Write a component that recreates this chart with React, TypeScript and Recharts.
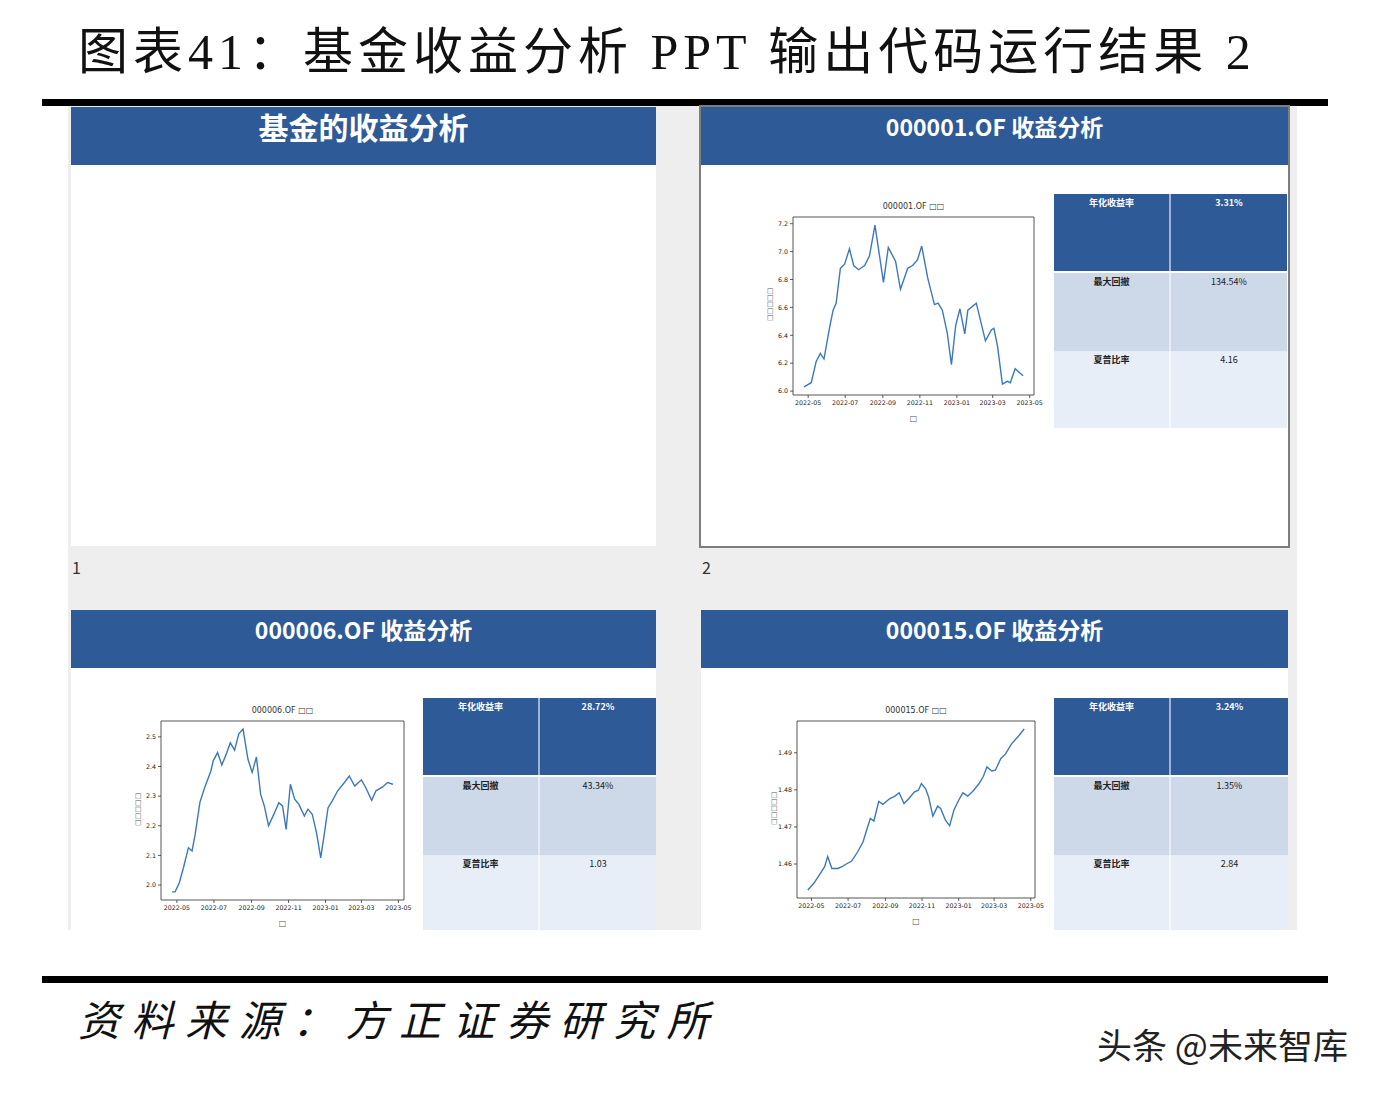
import React from "react";
import { LineChart, Line, XAxis, YAxis, ReferenceArea } from "recharts";

// x tick labels shared by the three NAV charts
const monthTicks = ["2022-05", "2022-07", "2022-09", "2022-11", "2023-01", "2023-03", "2023-05"];

// 000001.OF
const dates1 = [
  "2022-04-24", "2022-05-06", "2022-05-14", "2022-05-21", "2022-05-27", "2022-06-05", "2022-06-11",
  "2022-06-16", "2022-06-23", "2022-06-30", "2022-07-08", "2022-07-15", "2022-07-23", "2022-08-02",
  "2022-08-10", "2022-08-19", "2022-09-02", "2022-09-10", "2022-09-22", "2022-09-30", "2022-10-12",
  "2022-10-20", "2022-10-28", "2022-11-04", "2022-11-14", "2022-11-25", "2022-12-01", "2022-12-08",
  "2022-12-16", "2022-12-23", "2022-12-30", "2023-01-06", "2023-01-14", "2023-01-19", "2023-02-02",
  "2023-02-17", "2023-02-27", "2023-03-03", "2023-03-09", "2023-03-17", "2023-03-25", "2023-03-30",
  "2023-04-07", "2023-04-20",
];
const nav1 = [
  6.03, 6.06, 6.21, 6.27, 6.23, 6.45, 6.58,
  6.63, 6.88, 6.91, 7.02, 6.9, 6.87, 6.9,
  6.97, 7.19, 6.78, 7.03, 6.93, 6.73, 6.88,
  6.9, 6.94, 7.04, 6.81, 6.62, 6.63, 6.58,
  6.42, 6.19, 6.47, 6.59, 6.41, 6.58, 6.63,
  6.36, 6.44, 6.45, 6.32, 6.05, 6.07, 6.06,
  6.16, 6.11,
];
const yTicks1 = [6.0, 6.2, 6.4, 6.6, 6.8, 7.0, 7.2];
const stats1 = ["3.31%", "134.54%", "4.16"];

// 000006.OF
const dates2 = [
  "2022-04-23", "2022-04-28", "2022-05-05", "2022-05-12", "2022-05-20", "2022-05-26", "2022-05-31",
  "2022-06-08", "2022-06-16", "2022-06-26", "2022-06-30", "2022-07-07", "2022-07-14", "2022-07-21",
  "2022-07-28", "2022-08-04", "2022-08-11", "2022-08-18", "2022-08-26", "2022-09-02", "2022-09-09",
  "2022-09-16", "2022-09-22", "2022-09-29", "2022-10-08", "2022-10-16", "2022-10-22", "2022-10-28",
  "2022-11-04", "2022-11-11", "2022-11-18", "2022-11-27", "2022-12-03", "2022-12-10", "2022-12-17",
  "2022-12-24", "2022-12-29", "2023-01-05", "2023-01-12", "2023-01-21", "2023-02-01", "2023-02-09",
  "2023-02-18", "2023-03-01", "2023-03-08", "2023-03-18", "2023-03-25", "2023-04-05", "2023-04-13",
  "2023-04-22",
];
const nav2 = [
  1.977, 1.977, 2.008, 2.06, 2.126, 2.115, 2.17,
  2.28, 2.33, 2.385, 2.42, 2.447, 2.405, 2.44,
  2.48, 2.455, 2.51, 2.526, 2.425, 2.38, 2.432,
  2.306, 2.267, 2.2, 2.24, 2.278, 2.267, 2.188,
  2.34, 2.29, 2.272, 2.233, 2.256, 2.239, 2.177,
  2.092, 2.16, 2.26, 2.284, 2.318, 2.346, 2.368,
  2.334, 2.355, 2.329, 2.286, 2.318, 2.331, 2.346,
  2.34,
];
const yTicks2 = [2.0, 2.1, 2.2, 2.3, 2.4, 2.5];
const stats2 = ["28.72%", "43.34%", "1.03"];

// 000015.OF
const dates3 = [
  "2022-04-25", "2022-05-05", "2022-05-14", "2022-05-23", "2022-05-28", "2022-06-04", "2022-06-14",
  "2022-06-21", "2022-06-28", "2022-07-07", "2022-07-17", "2022-07-26", "2022-07-31", "2022-08-07",
  "2022-08-13", "2022-08-21", "2022-08-28", "2022-09-08", "2022-09-17", "2022-09-24", "2022-10-02",
  "2022-10-10", "2022-10-19", "2022-10-26", "2022-10-31", "2022-11-07", "2022-11-12", "2022-11-19",
  "2022-11-27", "2022-12-02", "2022-12-10", "2022-12-17", "2022-12-24", "2023-01-01", "2023-01-08",
  "2023-01-16", "2023-01-25", "2023-02-04", "2023-02-11", "2023-02-17", "2023-02-25", "2023-03-03",
  "2023-03-12", "2023-03-20", "2023-03-30", "2023-04-10", "2023-04-20",
];
const nav3 = [
  1.453, 1.4548, 1.457, 1.4593, 1.462, 1.4588, 1.4588,
  1.4593, 1.46, 1.4608, 1.4633, 1.466, 1.4687, 1.4723,
  1.4716, 1.4769, 1.4761, 1.4776, 1.4783, 1.4792, 1.4763,
  1.4776, 1.4794, 1.4799, 1.4817, 1.4803, 1.4781, 1.4729,
  1.4756, 1.475, 1.4718, 1.4703, 1.4745, 1.4772, 1.4792,
  1.4783, 1.4797, 1.4817, 1.4836, 1.4862, 1.4851, 1.4853,
  1.4884, 1.4897, 1.4924, 1.4944, 1.4964,
];
const yTicks3 = [1.46, 1.47, 1.48, 1.49];
const stats3 = ["3.24%", "1.35%", "2.84"];

const statNames = ["年化收益率", "最大回撤", "夏普比率"];

const BLUE = "#2e5a98";
const CJK = "'Noto Sans CJK SC', 'Noto Sans', sans-serif";
const MPL = "'DejaVu Sans', sans-serif";

function monthLabel(t: number) {
  const d = new Date(t);
  return d.getUTCFullYear() + "-" + String(d.getUTCMonth() + 1).padStart(2, "0");
}

function NavChart({ code, dates, nav, yTicks, digits, box }: any) {
  const data = dates.map((d: string, i: number) => ({ t: Date.parse(d), v: nav[i] }));
  const ts = data.map((p: any) => p.t);
  const tMin = Math.min(...ts);
  const tMax = Math.max(...ts);
  const vMin = Math.min(...nav);
  const vMax = Math.max(...nav);
  const xPad = (tMax - tMin) * 0.05;
  const yPad = (vMax - vMin) * 0.05;
  const xDomain = [tMin - xPad, tMax + xPad];
  const yDomain = [vMin - yPad, vMax + yPad];
  const [px, py, pw, ph] = box;

  return (
    <>
      <div
        style={{
          position: "absolute", left: px, top: py - 16, width: pw, textAlign: "center",
          fontFamily: MPL, fontSize: 8, color: "#333", lineHeight: "12px",
        }}
      >
        {code} □□
      </div>
      <div
        style={{
          position: "absolute", left: px - 38, top: py + ph / 2 - 6, width: 30, height: 12,
          transform: "rotate(-90deg)", textAlign: "center", fontFamily: MPL, fontSize: 7,
          color: "#555", lineHeight: "12px",
        }}
      >
        □□□□□
      </div>
      <div
        style={{
          position: "absolute", left: px, top: ph + py + 19, width: pw, textAlign: "center",
          fontFamily: MPL, fontSize: 8, color: "#555", lineHeight: "10px",
        }}
      >
        □
      </div>
      <div style={{ position: "absolute", left: px - 40, top: py - 10 }}>
        <LineChart width={pw + 60} height={ph + 40} data={data} margin={{ top: 10, right: 20, left: 0, bottom: 0 }}>
          <XAxis
            dataKey="t"
            type="number"
            domain={xDomain}
            allowDataOverflow
            ticks={monthTicks.map((m) => Date.parse(m + "-01"))}
            tickFormatter={monthLabel}
            interval={0}
            height={30}
            tickSize={3}
            tickMargin={3}
            axisLine={false}
            tickLine={{ stroke: "#333", strokeWidth: 0.8 }}
            tick={{ fontSize: 6.3, fill: "#222", fontFamily: MPL }}
          />
          <YAxis
            type="number"
            domain={yDomain}
            allowDataOverflow
            ticks={yTicks}
            tickFormatter={(v: number) => v.toFixed(digits)}
            interval={0}
            width={40}
            tickSize={3}
            tickMargin={2}
            axisLine={false}
            tickLine={{ stroke: "#333", strokeWidth: 0.8 }}
            tick={{ fontSize: 6.3, fill: "#222", fontFamily: MPL }}
          />
          <ReferenceArea
            x1={xDomain[0]}
            x2={xDomain[1]}
            y1={yDomain[0]}
            y2={yDomain[1]}
            fill="none"
            stroke="#444"
            strokeWidth={0.9}
            ifOverflow="visible"
          />
          <Line
            dataKey="v"
            type="linear"
            stroke="#3a78c0"
            strokeWidth={1.4}
            dot={false}
            isAnimationActive={false}
          />
        </LineChart>
      </div>
    </>
  );
}

function StatTable({ stats, left, top, width, height }: any) {
  const rowH = [77, 78, 78];
  const bg = [BLUE, "#cdd8e9", "#e8eef7"];
  let y = 0;
  return (
    <div style={{ position: "absolute", left, top, width, height, overflow: "hidden" }}>
      {statNames.map((name, i) => {
        const rowTop = y;
        y += rowH[i] + (i === 0 ? 2 : 0);
        const color = i === 0 ? "#fff" : "#222";
        const cell = (text: string, bold: boolean, l: number, w: number, border: boolean) => (
          <div
            style={{
              position: "absolute", left: l, top: rowTop, width: w, height: rowH[i],
              background: bg[i], boxSizing: "border-box",
              borderRight: border ? "2px solid rgba(255,255,255,0.55)" : "none",
              textAlign: "center", paddingTop: 3, fontFamily: CJK, fontSize: 9,
              fontWeight: bold ? 700 : 400, color, lineHeight: "12px",
            }}
          >
            {text}
          </div>
        );
        return (
          <React.Fragment key={name}>
            {cell(name, true, 0, Math.round(width / 2), true)}
            {cell(stats[i], i === 0, Math.round(width / 2), width - Math.round(width / 2), false)}
          </React.Fragment>
        );
      })}
    </div>
  );
}

function Slide({ left, top, width, height, title, fontSize }: any) {
  return (
    <div style={{ position: "absolute", left, top, width, height, background: "#fff" }}>
      <div
        style={{
          position: "absolute", left: 0, top: 0, width, height: 58, background: BLUE,
          color: "#fff", fontFamily: CJK, fontWeight: 700, fontSize, textAlign: "center",
          lineHeight: "38px",
        }}
      >
        {title}
      </div>
    </div>
  );
}

export default function App() {
  return (
    <div
      style={{
        position: "absolute", left: 0, top: 0, width: 1382, height: 1094, background: "#fff",
        overflow: "hidden",
      }}
    >
      <div
        style={{
          position: "absolute", left: 78, top: 22, fontFamily: "'Liberation Serif', 'Noto Sans CJK SC', serif",
          fontSize: 50, letterSpacing: 5, lineHeight: "60px", color: "#111", whiteSpace: "nowrap",
        }}
      >
        图表41：基金收益分析 PPT 输出代码运行结果 2
      </div>
      <div style={{ position: "absolute", left: 42, top: 99, width: 1286, height: 7, background: "#000" }} />

      <div style={{ position: "absolute", left: 68, top: 106, width: 1229, height: 824, background: "#eeeeee" }} />

      <Slide left={71} top={107} width={585} height={439} title="基金的收益分析" fontSize={30} />
      <div
        style={{
          position: "absolute", left: 699, top: 105, width: 591, height: 443, boxSizing: "border-box",
          border: "2px solid #7d7d7d",
        }}
      />
      <Slide left={701} top={107} width={587} height={439} title="000001.OF 收益分析" fontSize={23} />
      <Slide left={71} top={610} width={585} height={320} title="000006.OF 收益分析" fontSize={23} />
      <Slide left={701} top={610} width={587} height={320} title="000015.OF 收益分析" fontSize={23} />

      <div style={{ position: "absolute", left: 72, top: 555, fontFamily: CJK, fontSize: 16, color: "#333" }}>1</div>
      <div style={{ position: "absolute", left: 702, top: 555, fontFamily: CJK, fontSize: 16, color: "#333" }}>2</div>

      <NavChart code="000001.OF" dates={dates1} nav={nav1} yTicks={yTicks1} digits={1} box={[793, 217, 241, 178]} />
      <NavChart code="000006.OF" dates={dates2} nav={nav2} yTicks={yTicks2} digits={1} box={[161, 721, 243, 179]} />
      <NavChart code="000015.OF" dates={dates3} nav={nav3} yTicks={yTicks3} digits={2} box={[797, 721, 238, 177]} />

      <StatTable stats={stats1} left={1054} top={194} width={233} height={234} />
      <StatTable stats={stats2} left={423} top={698} width={233} height={232} />
      <StatTable stats={stats3} left={1054} top={698} width={234} height={232} />

      <div style={{ position: "absolute", left: 42, top: 976, width: 1286, height: 7, background: "#000" }} />
      <div
        style={{
          position: "absolute", left: 78, top: 988, fontFamily: CJK, fontStyle: "italic", fontSize: 42,
          letterSpacing: 11.5, lineHeight: "60px", color: "#111", whiteSpace: "nowrap",
        }}
      >
        资料来源：方正证券研究所
      </div>
      <div
        style={{
          position: "absolute", left: 1097, top: 1021, fontFamily: CJK, fontSize: 35,
          lineHeight: "46px", color: "#222", whiteSpace: "nowrap",
        }}
      >
        头条 @未来智库
      </div>
    </div>
  );
}
